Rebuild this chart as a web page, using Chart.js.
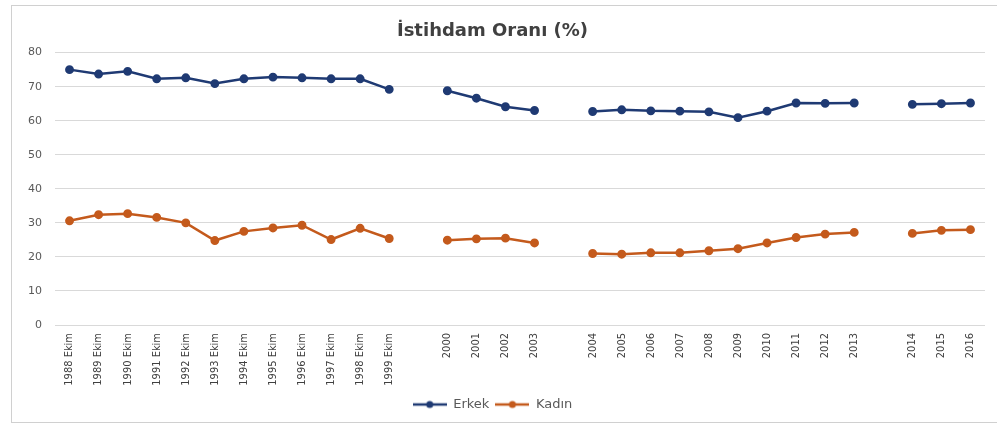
<!DOCTYPE html>
<html>
<head>
<meta charset="utf-8">
<style>
  html, body { margin: 0; padding: 0; background: #ffffff; }
  #wrap { width: 997px; height: 425px; position: relative; }
</style>
<script src="https://cdn.jsdelivr.net/npm/chart.js@4/dist/chart.umd.min.js"></script>
</head>
<body>
<div id="wrap"><canvas id="chart" width="997" height="425"></canvas></div>
<script>
// Survey periods; empty strings separate the series breaks
const categories = [
  '1988 Ekim', '1989 Ekim', '1990 Ekim', '1991 Ekim', '1992 Ekim', '1993 Ekim',
  '1994 Ekim', '1995 Ekim', '1996 Ekim', '1997 Ekim', '1998 Ekim', '1999 Ekim',
  '',
  '2000', '2001', '2002', '2003',
  '',
  '2004', '2005', '2006', '2007', '2008', '2009', '2010', '2011', '2012', '2013',
  '',
  '2014', '2015', '2016'
];

// Employment rate, men (%)
const erkek = [
  75.0, 73.7, 74.5, 72.3, 72.6, 70.9, 72.3, 72.8, 72.6, 72.3, 72.3, 69.2,
  null,
  68.8, 66.6, 64.1, 63.0,
  null,
  62.7, 63.2, 62.9, 62.8, 62.6, 60.9, 62.8, 65.2, 65.1, 65.2,
  null,
  64.8, 65.0, 65.2
];

// Employment rate, women (%)
const kadin = [
  30.6, 32.4, 32.7, 31.6, 30.0, 24.8, 27.5, 28.5, 29.3, 25.1, 28.4, 25.4,
  null,
  24.9, 25.3, 25.5, 24.1,
  null,
  21.0, 20.8, 21.2, 21.2, 21.8, 22.4, 24.1, 25.7, 26.7, 27.2,
  null,
  26.9, 27.8, 28.0
];

const yTicks = [0, 10, 20, 30, 40, 50, 60, 70, 80];

const BLUE = '#1f3a73';
const ORANGE = '#c45a1c';

// Legend swatch: short line with a dot in the middle
function lineMarker(color) {
  const c = document.createElement('canvas');
  c.width = 34; c.height = 10;
  const g = c.getContext('2d');
  g.strokeStyle = color; g.lineWidth = 2.5;
  g.beginPath(); g.moveTo(0, 5); g.lineTo(34, 5); g.stroke();
  g.fillStyle = color;
  g.beginPath(); g.arc(17, 5, 3.5, 0, Math.PI * 2); g.fill();
  return c;
}

// Thin outer frame around the whole chart
const framePlugin = {
  id: 'frame',
  beforeDraw(chart) {
    const ctx = chart.ctx;
    ctx.save();
    ctx.fillStyle = '#ffffff';
    ctx.fillRect(0, 0, chart.width, chart.height);
    ctx.strokeStyle = '#d0d0d0';
    ctx.lineWidth = 1;
    ctx.strokeRect(11.5, 5.5, chart.width - 11, chart.height - 8);
    ctx.restore();
  }
};

new Chart(document.getElementById('chart'), {
  type: 'line',
  data: {
    labels: categories,
    datasets: [
      {
        label: 'Erkek',
        data: erkek,
        borderColor: BLUE,
        backgroundColor: BLUE,
        borderWidth: 2.5,
        pointRadius: 3.2,
        pointBackgroundColor: BLUE,
        pointBorderColor: BLUE,
        spanGaps: false,
        tension: 0
      },
      {
        label: 'Kadın',
        data: kadin,
        borderColor: ORANGE,
        backgroundColor: ORANGE,
        borderWidth: 2.5,
        pointRadius: 3.2,
        pointBackgroundColor: ORANGE,
        pointBorderColor: ORANGE,
        spanGaps: false,
        tension: 0
      }
    ]
  },
  options: {
    responsive: false,
    animation: false,
    devicePixelRatio: 1,
    layout: { padding: { left: 0, right: 12, top: 0, bottom: 4 } },
    plugins: {
      title: {
        display: true,
        text: 'İstihdam Oranı (%)',
        color: '#404040',
        font: { family: 'DejaVu Sans', size: 18, weight: 'bold' },
        padding: { top: 21, bottom: 10 }
      },
      legend: {
        position: 'bottom',
        labels: {
          color: '#595959',
          font: { family: 'DejaVu Sans', size: 13 },
          usePointStyle: true,
          pointStyleWidth: 34,
          padding: 6,
          generateLabels(chart) {
            return chart.data.datasets.map((ds, i) => ({
              text: ds.label,
              fillStyle: ds.borderColor,
              strokeStyle: ds.borderColor,
              fontColor: '#595959',
              lineWidth: 0,
              pointStyle: lineMarker(ds.borderColor),
              datasetIndex: i,
              hidden: false
            }));
          }
        }
      },
      tooltip: { enabled: false }
    },
    scales: {
      x: {
        offset: true,
        grid: { display: false, drawTicks: false },
        border: { display: false },
        ticks: {
          autoSkip: false,
          minRotation: 90,
          maxRotation: 90,
          padding: 8,
          color: '#404040',
          font: { family: "'DejaVu Sans Condensed', 'Liberation Sans', sans-serif", size: 11 }
        },
        afterFit(scale) { scale.height = 67; }
      },
      y: {
        min: 0,
        max: 80,
        afterBuildTicks(scale) { scale.ticks = yTicks.map(v => ({ value: v })); },
        grid: { color: '#d9d9d9', lineWidth: 1, drawTicks: false },
        border: { display: false },
        ticks: {
          padding: 13,
          color: '#595959',
          font: { family: 'DejaVu Sans', size: 11 }
        },
        afterFit(scale) { scale.width = 55; }
      }
    }
  },
  plugins: [framePlugin]
});
</script>
</body>
</html>
